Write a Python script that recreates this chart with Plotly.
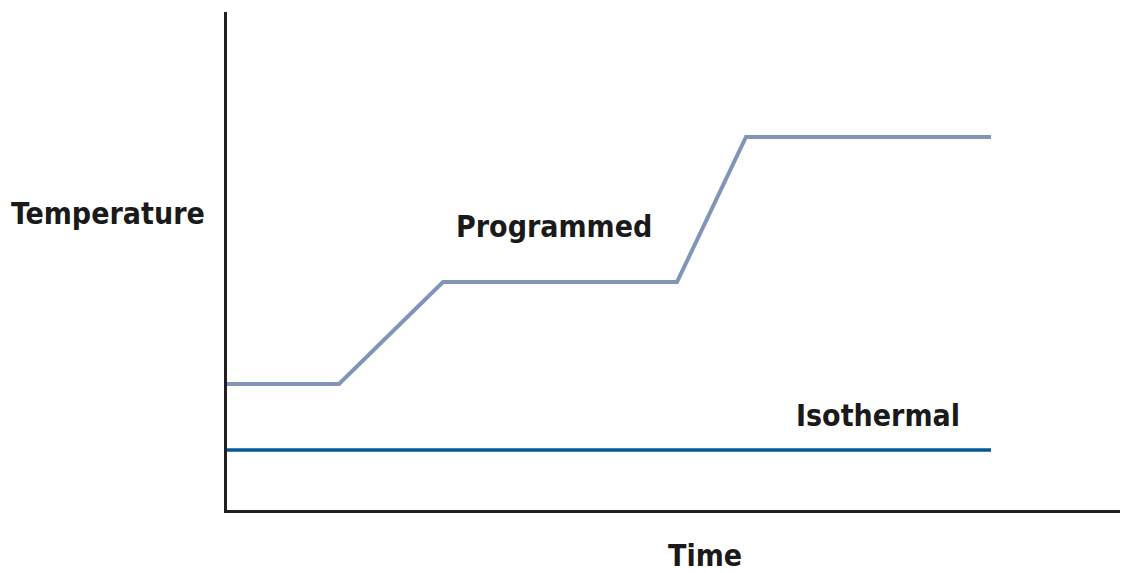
import plotly.graph_objects as go

# Data (time units / temperature units)
prog_time = [0, 112, 216, 450, 519, 764]
prog_temp = [126, 126, 228, 228, 373, 373]
iso_time = [0, 764]
iso_temp = [60, 60]

labels = {"y": "Temperature", "x": "Time", "prog": "Programmed", "iso": "Isothermal"}

FONT = "DejaVu Sans Condensed, Liberation Sans Narrow, Arial Narrow, sans-serif"

fig = go.Figure()
fig.add_trace(go.Scatter(x=prog_time, y=prog_temp, mode="lines",
                         line=dict(color="#8196b7", width=4), hoverinfo="skip"))
fig.add_trace(go.Scatter(x=iso_time, y=iso_temp, mode="lines",
                         line=dict(color="#035a96", width=3.5), hoverinfo="skip"))

ann_font = dict(family=FONT, size=30, color="#1a1a1a")
common = dict(showarrow=False, font=ann_font, xanchor="center", yanchor="middle")
fig.add_annotation(x=327, y=284, xref="x", yref="y", text="<b>%s</b>" % labels["prog"], **common)
fig.add_annotation(x=651, y=95, xref="x", yref="y", text="<b>%s</b>" % labels["iso"], **common)
fig.add_annotation(x=-0.132, y=0.596, xref="paper", yref="paper", text="<b>%s</b>" % labels["y"], **common)
fig.add_annotation(x=0.53, y=-0.092, xref="paper", yref="paper", text="<b>%s</b>" % labels["x"], **common)

fig.update_layout(
    width=1121, height=565,
    margin=dict(l=219, r=0, t=4, b=63),
    paper_bgcolor="white", plot_bgcolor="white",
    showlegend=False,
    xaxis=dict(range=[0, 902], showline=True, linecolor="#231f20", linewidth=3,
               showgrid=False, zeroline=False, showticklabels=False, ticks=""),
    yaxis=dict(range=[0, 498], showline=True, linecolor="#231f20", linewidth=3,
               showgrid=False, zeroline=False, showticklabels=False, ticks=""),
)

fig.write_html("out.html")
